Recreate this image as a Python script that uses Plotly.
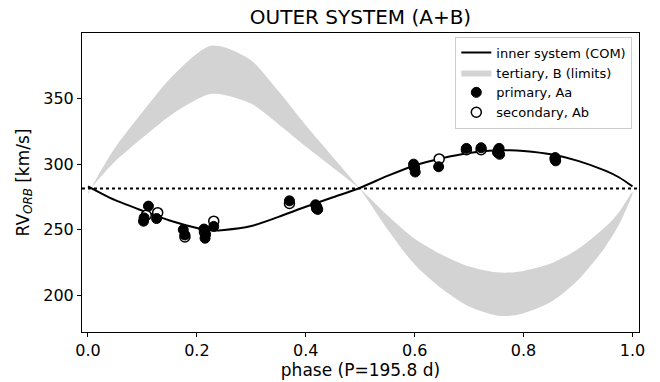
import plotly.graph_objects as go

# ---- data ----
phase_grid = [0.0, 0.025, 0.05, 0.10, 0.15, 0.20, 0.225, 0.25, 0.30, 0.35, 0.40, 0.45, 0.50,
              0.55, 0.60, 0.65, 0.70, 0.75, 0.775, 0.80, 0.85, 0.90, 0.95, 0.975, 1.0]
com_rv = [283.0, 277.5, 272.5, 264.5, 257.0, 251.3, 249.5, 249.8, 252.8, 259.8, 267.5, 274.7, 282.0,
          291.0, 299.0, 304.5, 308.5, 310.5, 310.6, 310.0, 307.5, 302.5, 295.0, 290.0, 283.0]
tert_lo_limit = [278.8, 291.1, 302.2, 320.1, 336.8, 349.5, 353.5, 352.8, 346.1, 330.5, 313.4, 297.3, 281.0,
                 261.0, 243.1, 230.9, 221.9, 217.5, 217.3, 218.6, 224.2, 235.3, 252.0, 263.2, 278.8]
tert_hi_limit = [277.3, 295.9, 312.7, 339.7, 364.9, 384.1, 390.2, 389.2, 379.1, 355.5, 329.6, 305.3, 280.7,
                 250.4, 223.4, 204.9, 191.4, 184.6, 184.3, 186.3, 194.8, 211.6, 236.9, 253.7, 277.3]
gamma = 281.5

prim_phase = [0.102, 0.103, 0.111, 0.126, 0.175, 0.178, 0.213, 0.215, 0.216, 0.231,
              0.370, 0.418, 0.420, 0.422, 0.598, 0.600, 0.601, 0.644, 0.695, 0.722,
              0.752, 0.755, 0.756, 0.858, 0.859]
prim_rv = [256.5, 259.0, 268.0, 258.5, 250.0, 246.0, 250.5, 243.5, 246.5, 252.5,
           272.0, 269.0, 266.0, 265.5, 300.0, 297.0, 294.0, 298.0, 312.0, 312.5,
           309.0, 312.0, 307.5, 305.0, 302.5]
sec_phase = [0.107, 0.128, 0.178, 0.214, 0.231, 0.370, 0.420, 0.599, 0.645, 0.695,
             0.722, 0.754, 0.858]
sec_rv = [261.0, 263.0, 244.5, 248.0, 256.5, 270.0, 267.0, 298.0, 304.0, 311.0,
          311.0, 310.5, 304.0]

x_ticks = [0.0, 0.2, 0.4, 0.6, 0.8, 1.0]
y_ticks = [200, 250, 300, 350]

FONT = "DejaVu Sans"

fig = go.Figure()

# tertiary band as closed polygon
fig.add_trace(go.Scatter(
    x=phase_grid + phase_grid[::-1],
    y=tert_lo_limit + tert_hi_limit[::-1],
    fill="toself", fillcolor="#d3d3d3", mode="lines",
    line=dict(width=0, color="#d3d3d3", shape="spline", smoothing=0.8),
    name="tertiary, B (limits)", legendrank=2, hoverinfo="skip"))

fig.add_trace(go.Scatter(
    x=phase_grid, y=com_rv, mode="lines",
    line=dict(color="black", width=2, shape="spline", smoothing=0.8),
    name="inner system (COM)", legendrank=1))

# secondaries drawn beneath the primaries
fig.add_trace(go.Scatter(
    x=sec_phase, y=sec_rv, mode="markers",
    marker=dict(symbol="circle", size=10, color="white", line=dict(color="black", width=1.5)),
    name="secondary, Ab", legendrank=4))

fig.add_trace(go.Scatter(
    x=prim_phase, y=prim_rv, mode="markers",
    marker=dict(symbol="circle", size=10, color="black", line=dict(color="black", width=1)),
    name="primary, Aa", legendrank=3))

fig.add_shape(type="line", xref="paper", x0=0, x1=1, yref="y", y0=gamma, y1=gamma,
              line=dict(color="black", width=2, dash="dot"), layer="below")

fig.update_layout(
    width=660, height=382,
    margin=dict(l=82, r=21, t=33, b=50),
    paper_bgcolor="white", plot_bgcolor="white",
    font=dict(family=FONT, size=16, color="black"),
    title=dict(text="OUTER SYSTEM (A+B)", x=0.5, xref="paper", xanchor="center",
               y=0.955, yref="container", yanchor="middle",
               font=dict(family=FONT, size=20, color="black")),
    showlegend=True,
    legend=dict(x=0.988, y=0.988, xanchor="right", yanchor="top",
                bgcolor="white", bordercolor="#cccccc", borderwidth=1,
                font=dict(family=FONT, size=13, color="black"),
                tracegroupgap=0, itemwidth=30),
)
fig.update_xaxes(range=[-0.011, 1.012], tickvals=x_ticks,
                 ticktext=[f"{v:.1f}" for v in x_ticks], automargin=False,
                 showline=True, linecolor="black", linewidth=1, mirror=True,
                 ticks="outside", ticklen=4, tickcolor="black", showgrid=False, zeroline=False,
                 tickfont=dict(size=16),
                 title=dict(text="phase (P=195.8 d)", font=dict(size=17), standoff=4))
fig.update_yaxes(range=[172, 400], tickvals=y_ticks, automargin=False,
                 showline=True, linecolor="black", linewidth=1, mirror=True,
                 ticks="outside", ticklen=4, tickcolor="black", showgrid=False, zeroline=False,
                 tickfont=dict(size=16),
                 title=dict(text="RV<sub><i>ORB</i></sub> [km/s]", font=dict(size=17), standoff=9))

fig.write_html("out.html")
